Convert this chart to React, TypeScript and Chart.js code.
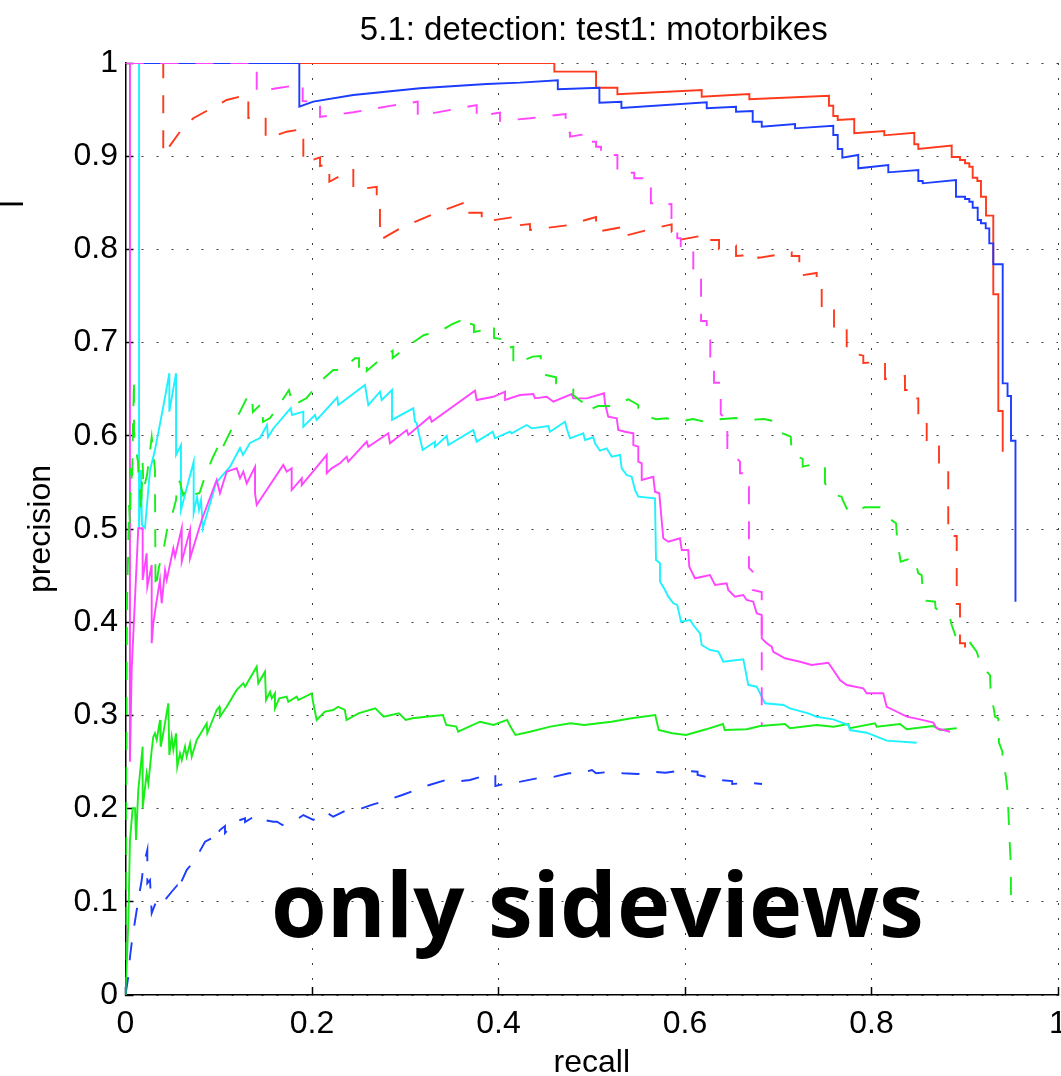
import { useEffect, useRef } from "react";
import { Chart, registerables } from "chart.js";

Chart.register(...registerables);

// ---------- text ----------
const chartTitle = "5.1: detection: test1: motorbikes";
const xAxisTitle = "recall";
const yAxisTitle = "precision";
const annotationText = "only sideviews";
const strayLabel = "l";

// ---------- ticks ----------
const xTickValues = [0, 0.2, 0.4, 0.6, 0.8, 1];
const xTickLabels = ["0", "0.2", "0.4", "0.6", "0.8", "1"];
const yTickValues = [0, 0.1, 0.2, 0.3, 0.4, 0.5, 0.6, 0.7, 0.8, 0.9, 1];
const yTickLabels = ["0", "0.1", "0.2", "0.3", "0.4", "0.5", "0.6", "0.7", "0.8", "0.9", "1"];

// ---------- series: [recall, precision] ----------
const redSolid = [
  [0, 1], [0.4599, 1], [0.4599, 0.9907], [0.5046, 0.9907], [0.5046, 0.9735], [0.5275, 0.9735],
  [0.5275, 0.9664], [0.6179, 0.971], [0.6179, 0.9638], [0.669, 0.9667], [0.669, 0.9611],
  [0.7544, 0.9649], [0.7544, 0.9542], [0.759, 0.9542], [0.759, 0.9431], [0.7638, 0.9431],
  [0.7638, 0.9388], [0.7815, 0.9399], [0.7815, 0.9246], [0.8137, 0.927], [0.8137, 0.9224],
  [0.8459, 0.9252], [0.8459, 0.9128], [0.8502, 0.9128], [0.8502, 0.9077], [0.886, 0.9113],
  [0.886, 0.8991], [0.8949, 0.8991], [0.8949, 0.8959], [0.9003, 0.8959], [0.9003, 0.8924],
  [0.9049, 0.8924], [0.9049, 0.8887], [0.9085, 0.8887], [0.9085, 0.8769], [0.9135, 0.8769],
  [0.9135, 0.8734], [0.9174, 0.8734], [0.9174, 0.8565], [0.9228, 0.8565], [0.9228, 0.8362],
  [0.9306, 0.8362], [0.9306, 0.7518], [0.936, 0.7518], [0.936, 0.6266], [0.9407, 0.6266],
  [0.9407, 0.5829],
];

const blueSolid = [
  [0, 1], [0.1864, 1], [0.1864, 0.9531], [0.2014, 0.9585], [0.2443, 0.9657], [0.3158, 0.9729],
  [0.3873, 0.9775], [0.4231, 0.9789], [0.4636, 0.9814], [0.4636, 0.9718], [0.5082, 0.9735],
  [0.5082, 0.9574], [0.5318, 0.9585], [0.5318, 0.9517], [0.6233, 0.9578], [0.6233, 0.9514],
  [0.6547, 0.9531], [0.6547, 0.9477], [0.6726, 0.9485], [0.6726, 0.937], [0.6823, 0.937],
  [0.6823, 0.9317], [0.718, 0.9345], [0.718, 0.9299], [0.759, 0.9327], [0.759, 0.9227],
  [0.7638, 0.9227], [0.7638, 0.9077], [0.7687, 0.9077], [0.7687, 0.8984], [0.7858, 0.9013],
  [0.7858, 0.887], [0.818, 0.8906], [0.818, 0.8827], [0.8502, 0.8852], [0.8502, 0.8734],
  [0.8549, 0.8734], [0.8549, 0.8709], [0.8906, 0.8745], [0.8906, 0.8565], [0.9003, 0.8565],
  [0.9003, 0.8541], [0.9049, 0.8541], [0.9049, 0.8512], [0.9085, 0.8512], [0.9085, 0.8447],
  [0.9139, 0.8447], [0.9139, 0.8315], [0.9174, 0.8315], [0.9174, 0.828], [0.9225, 0.828],
  [0.9225, 0.8226], [0.9263, 0.8226], [0.9263, 0.8065], [0.9306, 0.8065], [0.9306, 0.784],
  [0.9407, 0.784], [0.9407, 0.6563], [0.9459, 0.6563], [0.9459, 0.6427], [0.9496, 0.6427],
  [0.9496, 0.5947], [0.9544, 0.5947], [0.9544, 0.422],
];

const redDashed = [
  [0, 1], [0.0405, 1], [0.0405, 0.9013], [0.059, 0.927], [0.0727, 0.9407], [0.1085, 0.9603],
  [0.1317, 0.9664], [0.1317, 0.941], [0.1503, 0.9424], [0.1503, 0.9185], [0.1729, 0.9263],
  [0.1907, 0.9292], [0.1907, 0.8927], [0.2086, 0.8988], [0.2086, 0.8895], [0.2186, 0.8916],
  [0.2186, 0.8726], [0.2443, 0.8863], [0.2443, 0.8637], [0.2694, 0.8672], [0.2694, 0.8444],
  [0.2729, 0.8444], [0.2729, 0.81], [0.2944, 0.8226], [0.3319, 0.8387], [0.3687, 0.8522],
  [0.3687, 0.8394], [0.382, 0.8394], [0.382, 0.8294], [0.4142, 0.8344], [0.4142, 0.8251],
  [0.4338, 0.8272], [0.4338, 0.8208], [0.4737, 0.8258], [0.5046, 0.8348], [0.5046, 0.8187],
  [0.5347, 0.8243], [0.5347, 0.8144], [0.5645, 0.8219], [0.5857, 0.8269], [0.5857, 0.819],
  [0.5928, 0.819], [0.5928, 0.8101], [0.6233, 0.8155], [0.6233, 0.8101], [0.6365, 0.8101],
  [0.6365, 0.8004], [0.6547, 0.804], [0.6547, 0.7929], [0.6786, 0.7947], [0.6786, 0.7908],
  [0.7144, 0.7969], [0.7144, 0.7929], [0.7226, 0.7929], [0.7226, 0.7718], [0.7412, 0.7747],
  [0.7412, 0.7661], [0.7466, 0.7661], [0.7466, 0.7382], [0.7598, 0.7403], [0.7598, 0.7153],
  [0.7734, 0.7178], [0.7734, 0.6899], [0.7912, 0.686], [0.7912, 0.6781], [0.8145, 0.6795],
  [0.8145, 0.6609], [0.8359, 0.6642], [0.8359, 0.6491], [0.8456, 0.6491], [0.8456, 0.6402],
  [0.8502, 0.6402], [0.8502, 0.6223], [0.8592, 0.6223], [0.8592, 0.5944], [0.8724, 0.5944],
  [0.8724, 0.5668], [0.8823, 0.5668], [0.8823, 0.4925], [0.8914, 0.4925], [0.8914, 0.4195],
  [0.8949, 0.4195], [0.8949, 0.3774], [0.9003, 0.3774], [0.9003, 0.3637],
];

const magentaDashed = [
  [0, 1], [0.1407, 1], [0.1407, 0.9689], [0.1621, 0.9729], [0.19, 0.9771], [0.19, 0.9592],
  [0.2086, 0.9585], [0.2086, 0.9421], [0.2443, 0.9471], [0.2855, 0.9542], [0.3134, 0.9585],
  [0.3134, 0.9431], [0.3534, 0.9506], [0.3766, 0.9549], [0.3766, 0.9431], [0.4016, 0.9467],
  [0.4016, 0.9378], [0.4338, 0.9407], [0.472, 0.9453], [0.472, 0.9252], [0.4767, 0.9252],
  [0.4767, 0.9209], [0.4919, 0.9235], [0.4919, 0.9155], [0.5046, 0.9155], [0.5046, 0.9102],
  [0.51, 0.9102], [0.51, 0.9013], [0.5275, 0.9013], [0.5275, 0.8852], [0.5311, 0.8852],
  [0.5311, 0.882], [0.5456, 0.8823], [0.5456, 0.8763], [0.5543, 0.8763], [0.5543, 0.868],
  [0.5634, 0.868], [0.5634, 0.8495], [0.57, 0.8495], [0.57, 0.8476], [0.5855, 0.8487],
  [0.5855, 0.8243], [0.5917, 0.8208], [0.5917, 0.8119], [0.5954, 0.8119], [0.5954, 0.7994],
  [0.6089, 0.7994], [0.6089, 0.7743], [0.6172, 0.7743], [0.6172, 0.7232], [0.6233, 0.7232],
  [0.6233, 0.7103], [0.6271, 0.7103], [0.6271, 0.6741], [0.6311, 0.6741], [0.6311, 0.657],
  [0.6365, 0.657], [0.6365, 0.6445], [0.6383, 0.6445], [0.6383, 0.6231], [0.6454, 0.617],
  [0.6454, 0.5812], [0.6507, 0.5812], [0.659, 0.5722], [0.659, 0.5598], [0.6633, 0.5598],
  [0.6686, 0.5569], [0.6686, 0.4582], [0.6726, 0.4542], [0.6726, 0.4345], [0.6823, 0.4324],
  [0.6823, 0.2897],
];

const greenDashed = [
  [0, 0], [0.0011, 0.3165], [0.0016, 0.4238], [0.0027, 0.4667], [0.0038, 0.5258], [0.0048, 0.5043],
  [0.0059, 0.5655], [0.007, 0.5461], [0.008, 0.6084], [0.0091, 0.662], [0.0091, 0.6041],
  [0.0113, 0.5848], [0.0134, 0.5719], [0.0139, 0.5579], [0.0155, 0.544], [0.0166, 0.5182],
  [0.0184, 0.5708], [0.0193, 0.5418], [0.0231, 0.5579], [0.0281, 0.5987], [0.0295, 0.5848],
  [0.0316, 0.5633], [0.0322, 0.4345], [0.0359, 0.4592], [0.0413, 0.4807], [0.0445, 0.4989],
  [0.0488, 0.5107], [0.0542, 0.5311], [0.0558, 0.5526], [0.0584, 0.5504], [0.0617, 0.5365],
  [0.066, 0.544], [0.071, 0.5365], [0.0794, 0.5386], [0.0847, 0.5547], [0.0938, 0.5773],
  [0.1013, 0.5923], [0.1028, 0.5848], [0.1112, 0.6019], [0.121, 0.6223], [0.1301, 0.6406],
  [0.1357, 0.6448], [0.1366, 0.6255], [0.1464, 0.6352], [0.1475, 0.6148], [0.155, 0.6191],
  [0.1625, 0.6298], [0.1753, 0.6491], [0.1775, 0.6406], [0.1807, 0.6406], [0.1807, 0.633],
  [0.1943, 0.6406], [0.2086, 0.658], [0.2228, 0.6706], [0.2318, 0.6706], [0.2461, 0.6832],
  [0.2504, 0.6832], [0.2504, 0.6706], [0.2587, 0.6784], [0.2587, 0.6695], [0.2765, 0.6849],
  [0.2865, 0.6913], [0.2865, 0.6835], [0.3043, 0.6974], [0.3201, 0.7082], [0.3365, 0.7117],
  [0.3509, 0.72], [0.3687, 0.7278], [0.3687, 0.7207], [0.3737, 0.7189], [0.3737, 0.7114],
  [0.3845, 0.7135], [0.3952, 0.7189], [0.3952, 0.7049], [0.4088, 0.7028], [0.4088, 0.6939],
  [0.4159, 0.6956], [0.4159, 0.677], [0.4367, 0.6849], [0.4453, 0.6856], [0.4453, 0.6706],
  [0.4509, 0.6652], [0.4617, 0.6628], [0.4617, 0.6563], [0.4689, 0.6545], [0.4802, 0.6499],
  [0.4802, 0.6438], [0.4866, 0.6384], [0.4952, 0.633], [0.4952, 0.6269], [0.507, 0.632],
  [0.5231, 0.632], [0.5392, 0.6392], [0.5499, 0.633], [0.5499, 0.6266], [0.556, 0.6223],
  [0.5689, 0.6177], [0.5804, 0.6188], [0.5946, 0.6152], [0.6083, 0.618], [0.6233, 0.6145],
  [0.6357, 0.6177], [0.6547, 0.6191], [0.6679, 0.617], [0.6847, 0.618], [0.6947, 0.6159],
  [0.7001, 0.6044], [0.7134, 0.599], [0.7144, 0.5812], [0.7262, 0.5751], [0.7262, 0.5669],
  [0.734, 0.5687], [0.7501, 0.5679], [0.7501, 0.549], [0.758, 0.5372], [0.768, 0.5347],
  [0.7687, 0.5319], [0.7751, 0.5186], [0.793, 0.5233], [0.8091, 0.5233], [0.8127, 0.5204],
  [0.8163, 0.5132], [0.8263, 0.5061], [0.8277, 0.4864], [0.8313, 0.4649], [0.8456, 0.4696],
  [0.8502, 0.4525], [0.8538, 0.4506], [0.8545, 0.4399], [0.8584, 0.4231], [0.8681, 0.422],
  [0.8688, 0.4149], [0.8806, 0.4088], [0.8834, 0.4077], [0.886, 0.397], [0.8914, 0.3816],
  [0.9003, 0.3809], [0.9049, 0.3791], [0.9128, 0.3683], [0.9145, 0.363], [0.9182, 0.3523],
  [0.9271, 0.3433], [0.9278, 0.3237], [0.9314, 0.3058], [0.9324, 0.2986], [0.936, 0.2969],
  [0.9367, 0.2707], [0.9404, 0.261], [0.9404, 0.2557], [0.944, 0.235], [0.9458, 0.22],
  [0.9485, 0.1574], [0.9495, 0.1395], [0.9495, 0.1055],
];

const cyanSolid = [
  [0, 1], [0.0145, 1], [0.0145, 0.5011], [0.0166, 0.5633], [0.0177, 0.5043], [0.0209, 0.5011],
  [0.0263, 0.5633], [0.0316, 0.5848], [0.0405, 0.6312], [0.047, 0.6671], [0.047, 0.6259],
  [0.0542, 0.6671], [0.0542, 0.5794], [0.0595, 0.5901], [0.0595, 0.5204], [0.0731, 0.5722],
  [0.0731, 0.5172], [0.0767, 0.5343], [0.0788, 0.5204], [0.081, 0.5311], [0.0829, 0.5008],
  [0.0971, 0.5494], [0.1121, 0.5668], [0.1228, 0.5869], [0.126, 0.5794], [0.1335, 0.5923],
  [0.1442, 0.5976], [0.1517, 0.6116], [0.1528, 0.5987], [0.159, 0.6084], [0.1772, 0.6298],
  [0.1786, 0.6223], [0.1907, 0.6259], [0.1907, 0.6098], [0.2032, 0.6223], [0.205, 0.617],
  [0.2271, 0.6413], [0.2282, 0.633], [0.2568, 0.6545], [0.2604, 0.633], [0.2729, 0.6473],
  [0.2747, 0.6384], [0.2858, 0.6491], [0.2858, 0.617], [0.3086, 0.6295], [0.3105, 0.6151],
  [0.3123, 0.6137], [0.3142, 0.6041], [0.3187, 0.5848], [0.3319, 0.5937], [0.3319, 0.5883],
  [0.3445, 0.5998], [0.3462, 0.5901], [0.373, 0.6062], [0.3766, 0.5937], [0.3938, 0.6044],
  [0.3962, 0.5973], [0.4123, 0.6044], [0.4142, 0.6027], [0.4302, 0.6116], [0.4356, 0.608],
  [0.4534, 0.6105], [0.4552, 0.6044], [0.4713, 0.6151], [0.4731, 0.608], [0.4767, 0.5973],
  [0.4909, 0.6027], [0.4928, 0.5955], [0.5017, 0.5984], [0.5035, 0.592], [0.5088, 0.584],
  [0.516, 0.5866], [0.5214, 0.5776], [0.5303, 0.5794], [0.5321, 0.5651], [0.5375, 0.5579],
  [0.5428, 0.5561], [0.5464, 0.5418], [0.5499, 0.5347], [0.5678, 0.5329], [0.5689, 0.4667],
  [0.5732, 0.4632], [0.5732, 0.4435], [0.5786, 0.4345], [0.5821, 0.4274], [0.5875, 0.4203],
  [0.5917, 0.4185], [0.5957, 0.4005], [0.6054, 0.4024], [0.6089, 0.397], [0.6161, 0.3881],
  [0.6179, 0.3755], [0.6268, 0.3702], [0.6357, 0.3684], [0.6411, 0.3576], [0.6625, 0.3602],
  [0.6679, 0.3326], [0.6769, 0.3308], [0.6858, 0.313], [0.7054, 0.3112], [0.7126, 0.3076],
  [0.7322, 0.3022], [0.7412, 0.2986], [0.759, 0.2958], [0.7751, 0.2897], [0.7769, 0.2843],
  [0.7948, 0.2814], [0.8163, 0.2729], [0.8485, 0.2707],
];

const magentaSolid = [
  [0.0048, 1], [0.0048, 0.2503], [0.0066, 0.3487], [0.0137, 0.5008], [0.0184, 0.5008],
  [0.0184, 0.4453], [0.0227, 0.4739], [0.0234, 0.4381], [0.0281, 0.4614], [0.0281, 0.3774],
  [0.0298, 0.3988], [0.0335, 0.4238], [0.037, 0.4453], [0.0388, 0.4203], [0.0424, 0.456],
  [0.0442, 0.4453], [0.0513, 0.4793], [0.0531, 0.4703], [0.0603, 0.5008], [0.0603, 0.4649],
  [0.0692, 0.4989], [0.0692, 0.4686], [0.0817, 0.5097], [0.0978, 0.5526], [0.1013, 0.5383],
  [0.1085, 0.5615], [0.1193, 0.5651], [0.1228, 0.5544], [0.1263, 0.5615], [0.13, 0.549],
  [0.1389, 0.5668], [0.1389, 0.5383], [0.1407, 0.5258], [0.1692, 0.5687], [0.1729, 0.5615],
  [0.1782, 0.5651], [0.1782, 0.5418], [0.189, 0.5544], [0.189, 0.5472], [0.2158, 0.5794],
  [0.2158, 0.5598], [0.2211, 0.5651], [0.23, 0.5705], [0.2372, 0.5776], [0.2389, 0.5722],
  [0.2587, 0.5937], [0.2604, 0.5883], [0.2818, 0.6027], [0.2836, 0.592], [0.3016, 0.6062],
  [0.3033, 0.6009], [0.3265, 0.6205], [0.3284, 0.6151], [0.3748, 0.6484], [0.3766, 0.6384],
  [0.3944, 0.6419], [0.407, 0.6473], [0.407, 0.6384], [0.4231, 0.6438], [0.4373, 0.6448],
  [0.4391, 0.6402], [0.4517, 0.6419], [0.4588, 0.6366], [0.4785, 0.6448], [0.4802, 0.6402],
  [0.4946, 0.6402], [0.5131, 0.6456], [0.5142, 0.6349], [0.5177, 0.6205], [0.5268, 0.6188],
  [0.5285, 0.6062], [0.5357, 0.6044], [0.5446, 0.6027], [0.5446, 0.5901], [0.5499, 0.5883],
  [0.5499, 0.5722], [0.5536, 0.5705], [0.5536, 0.5526], [0.566, 0.5561], [0.5678, 0.54],
  [0.5724, 0.5383], [0.5767, 0.49], [0.5821, 0.4864], [0.5946, 0.49], [0.5965, 0.4775],
  [0.6035, 0.4775], [0.6046, 0.4595], [0.6107, 0.4471], [0.6268, 0.4506], [0.6322, 0.4399],
  [0.6447, 0.4417], [0.6464, 0.4345], [0.6536, 0.4274], [0.6625, 0.4292], [0.6662, 0.4238],
  [0.6732, 0.422], [0.6769, 0.4095], [0.6823, 0.4077], [0.6823, 0.3827], [0.6876, 0.3774],
  [0.693, 0.3737], [0.6947, 0.3683], [0.7072, 0.3613], [0.7233, 0.3576], [0.7359, 0.3541],
  [0.7537, 0.3565], [0.759, 0.3487], [0.7662, 0.338], [0.7734, 0.3326], [0.7912, 0.3291],
  [0.7948, 0.3237], [0.8126, 0.3237], [0.8163, 0.3093], [0.8234, 0.3058], [0.8378, 0.2986],
  [0.852, 0.2958], [0.8663, 0.2922], [0.8699, 0.2862], [0.8842, 0.2825],
];

const greenSolid = [
  [0, 0], [0.003, 0.0769], [0.0048, 0.1663], [0.0077, 0.2003], [0.0102, 0.2003], [0.0113, 0.1663],
  [0.0137, 0.22], [0.0184, 0.2664], [0.0184, 0.2003], [0.0227, 0.2379], [0.0245, 0.2271],
  [0.0281, 0.2629], [0.0298, 0.2771], [0.0316, 0.2808], [0.0335, 0.2736], [0.037, 0.2951],
  [0.0377, 0.2664], [0.0405, 0.2808], [0.0459, 0.313], [0.047, 0.2575], [0.0495, 0.2771],
  [0.0513, 0.2629], [0.0542, 0.2808], [0.0555, 0.245], [0.0584, 0.2593], [0.0603, 0.2521],
  [0.0638, 0.2664], [0.0656, 0.2557], [0.0692, 0.2701], [0.071, 0.2557], [0.0764, 0.2736],
  [0.0871, 0.2915], [0.0877, 0.2808], [0.0978, 0.3058], [0.1006, 0.3093], [0.1013, 0.2986],
  [0.1085, 0.3093], [0.1193, 0.3273], [0.1263, 0.3344], [0.1282, 0.3308], [0.1407, 0.3523],
  [0.1424, 0.3344], [0.1496, 0.3469], [0.1507, 0.3165], [0.155, 0.3254], [0.1568, 0.3183],
  [0.1603, 0.3237], [0.1603, 0.3076], [0.1649, 0.3183], [0.1729, 0.3201], [0.1746, 0.3147],
  [0.1836, 0.3201], [0.1853, 0.3165], [0.1997, 0.3237], [0.2014, 0.313], [0.205, 0.2951],
  [0.2139, 0.304], [0.2228, 0.3058], [0.2279, 0.3093], [0.2352, 0.3058], [0.237, 0.2951],
  [0.2498, 0.3022], [0.2679, 0.3076], [0.2769, 0.2986], [0.2932, 0.3022], [0.3005, 0.2951],
  [0.3077, 0.2969], [0.3223, 0.2986], [0.3404, 0.3004], [0.3439, 0.2897], [0.3548, 0.2879],
  [0.3567, 0.2825], [0.3802, 0.2932], [0.3947, 0.2897], [0.4092, 0.2951], [0.4129, 0.2879],
  [0.4182, 0.279], [0.4338, 0.2825], [0.4555, 0.2879], [0.4773, 0.2915], [0.4919, 0.2897],
  [0.521, 0.2932], [0.5427, 0.2969], [0.5681, 0.3004], [0.5718, 0.2843], [0.5863, 0.2808],
  [0.6011, 0.279], [0.6226, 0.2851], [0.6407, 0.2908], [0.6426, 0.2843], [0.6662, 0.2851],
  [0.6807, 0.2886], [0.7072, 0.2908], [0.7126, 0.2862], [0.7412, 0.2897], [0.759, 0.2879],
  [0.7751, 0.2908], [0.7769, 0.2862], [0.8038, 0.2915], [0.8056, 0.2879], [0.8306, 0.2908],
  [0.8378, 0.2851], [0.8663, 0.2886], [0.8735, 0.2843], [0.8914, 0.2862],
];

const blueDashed = [
  [0, 0], [0.003, 0.0196], [0.0048, 0.0408], [0.0075, 0.0626], [0.0102, 0.0794], [0.0137, 0.1019],
  [0.0174, 0.1234], [0.0191, 0.1377], [0.0234, 0.1556], [0.0234, 0.1198], [0.0263, 0.1234],
  [0.027, 0.1091], [0.0281, 0.0877], [0.0335, 0.1019], [0.0376, 0.1038], [0.0402, 0.1062],
  [0.0424, 0.1019], [0.0495, 0.1108], [0.0549, 0.117], [0.0549, 0.1105], [0.0656, 0.1341],
  [0.0745, 0.1448], [0.0853, 0.1645], [0.0924, 0.1681], [0.0924, 0.1642], [0.1013, 0.177],
  [0.1067, 0.1813], [0.1067, 0.1738], [0.1174, 0.1859], [0.1282, 0.1896], [0.1282, 0.1856],
  [0.1407, 0.1931], [0.1478, 0.1878], [0.1585, 0.1859], [0.1625, 0.1859], [0.1682, 0.1824],
  [0.18, 0.1859], [0.1907, 0.1931], [0.2014, 0.1878], [0.2139, 0.1967], [0.2228, 0.1913],
  [0.2372, 0.1985], [0.2533, 0.2003], [0.264, 0.2039], [0.2804, 0.2092], [0.2968, 0.2146],
  [0.3113, 0.22], [0.3258, 0.2253], [0.3439, 0.2307], [0.3548, 0.2289], [0.3694, 0.2307],
  [0.3875, 0.2361], [0.3966, 0.2361], [0.3966, 0.2242], [0.4092, 0.2271], [0.4237, 0.2289],
  [0.4411, 0.2325], [0.4574, 0.2336], [0.4755, 0.2379], [0.4901, 0.2385], [0.5003, 0.2414],
  [0.5046, 0.2379], [0.5202, 0.2396], [0.5336, 0.2379], [0.5493, 0.2371], [0.5646, 0.2396],
  [0.5791, 0.2385], [0.5954, 0.2407], [0.6135, 0.2396], [0.6135, 0.2361], [0.6245, 0.2336],
  [0.6354, 0.2307], [0.6506, 0.2296], [0.6506, 0.2264], [0.668, 0.2278], [0.6826, 0.2264],
];

// top-most first (Chart.js draws dataset 0 last)
const seriesList = [
  { name: "magenta dashed", points: magentaDashed, color: "#ff45ff", dashed: true },
  { name: "green dashed", points: greenDashed, color: "#18ee18", dashed: true },
  { name: "blue dashed", points: blueDashed, color: "#1c3cff", dashed: true },
  { name: "red dashed", points: redDashed, color: "#ff3a1c", dashed: true },
  { name: "magenta solid", points: magentaSolid, color: "#ff45ff", dashed: false },
  { name: "cyan solid", points: cyanSolid, color: "#1ef2ff", dashed: false },
  { name: "green solid", points: greenSolid, color: "#18ee18", dashed: false },
  { name: "blue solid", points: blueSolid, color: "#1c3cff", dashed: false },
  { name: "red solid", points: redSolid, color: "#ff3a1c", dashed: false },
];

const annotationAt = [0.156, 0.062];

const FONT = "Liberation Sans";

const extraText = {
  id: "extraText",
  afterDatasetsDraw(chart: any) {
    const { ctx, chartArea, scales } = chart;
    ctx.save();
    ctx.fillStyle = "#000";
    // title
    ctx.font = `33px "${FONT}"`;
    ctx.textAlign = "center";
    ctx.textBaseline = "alphabetic";
    ctx.fillText(chartTitle, (chartArea.left + chartArea.right) / 2 + 2, chartArea.top - 23.5);
    // annotation
    ctx.font = `bold 90px "Open Sans"`;
    ctx.textAlign = "left";
    ctx.fillText(
      annotationText,
      scales.x.getPixelForValue(annotationAt[0]),
      scales.y.getPixelForValue(annotationAt[1])
    );
    // stray rotated label
    ctx.font = `32px "${FONT}"`;
    ctx.translate(23, 204);
    ctx.rotate(-Math.PI / 2);
    ctx.textAlign = "center";
    ctx.fillText(strayLabel, 0, 0);
    ctx.restore();
  },
};

export default function App() {
  const ref = useRef<HTMLCanvasElement | null>(null);

  useEffect(() => {
    if (!ref.current) return;
    const gridColor = "rgba(40,40,40,0.9)";
    const tickFont = { family: FONT, size: 32 };
    const chart = new Chart(ref.current, {
      type: "line",
      data: {
        datasets: seriesList.map((s) => ({
          label: s.name,
          data: s.points.map(([x, y]) => ({ x, y })),
          borderColor: s.color,
          backgroundColor: s.color,
          borderWidth: 1.9,
          borderDash: s.dashed ? [18, 17] : [],
          pointRadius: 0,
          pointHoverRadius: 0,
          tension: 0,
          fill: false,
        })),
      },
      options: {
        responsive: false,
        animation: false,
        events: [],
        layout: { padding: { top: 63, right: 3, left: 0, bottom: 0 } },
        plugins: {
          legend: { display: false },
          tooltip: { enabled: false },
          title: { display: false },
        },
        scales: {
          x: {
            type: "linear",
            min: 0,
            max: 1,
            afterBuildTicks: (s: any) => {
              s.ticks = xTickValues.map((v) => ({ value: v }));
            },
            afterFit: (s: any) => {
              s.height = 81;
              s.paddingLeft = 0;
              s.paddingRight = 0;
              s.paddingTop = 0;
              s.paddingBottom = 0;
            },
            ticks: {
              callback: (_v: any, i: number) => xTickLabels[i],
              font: tickFont,
              color: "#000",
              padding: 17.5,
              maxRotation: 0,
              autoSkip: false,
            },
            grid: {
              color: gridColor,
              lineWidth: 1,
              drawTicks: true,
              tickLength: -8,
              tickColor: "#000",
              tickWidth: 1.5,
            },
            border: { display: true, color: "#000", width: 1.5, dash: [2, 13] },
            title: {
              display: true,
              text: xAxisTitle,
              color: "#000",
              font: { family: FONT, size: 32, lineHeight: 0.8 },
              padding: { top: 0, bottom: 0 },
            },
          },
          y: {
            type: "linear",
            min: 0,
            max: 1,
            afterBuildTicks: (s: any) => {
              s.ticks = yTickValues.map((v) => ({ value: v }));
            },
            afterFit: (s: any) => {
              s.width = 125.5;
              s.paddingLeft = 0;
              s.paddingRight = 0;
              s.paddingTop = 0;
              s.paddingBottom = 0;
            },
            ticks: {
              callback: (_v: any, i: number) => yTickLabels[i],
              font: tickFont,
              color: "#000",
              padding: 15.5,
              autoSkip: false,
            },
            grid: {
              color: gridColor,
              lineWidth: 1,
              drawTicks: true,
              tickLength: -8,
              tickColor: "#000",
              tickWidth: 1.5,
            },
            border: { display: true, color: "#000", width: 1.5, dash: [2, 13] },
            title: {
              display: true,
              text: yAxisTitle,
              color: "#000",
              font: { family: FONT, size: 32, lineHeight: 1.2 },
              padding: { top: 22, bottom: 0 },
            },
          },
        },
      },
      plugins: [extraText],
    } as any);
    return () => chart.destroy();
  }, []);

  return (
    <div
      style={{
        position: "fixed",
        left: 0,
        top: 0,
        width: 1061,
        height: 1076,
        background: "#fff",
      }}
    >
      <canvas
        ref={ref}
        width={1061}
        height={1076}
        style={{ display: "block", width: 1061, height: 1076 }}
      />
    </div>
  );
}
